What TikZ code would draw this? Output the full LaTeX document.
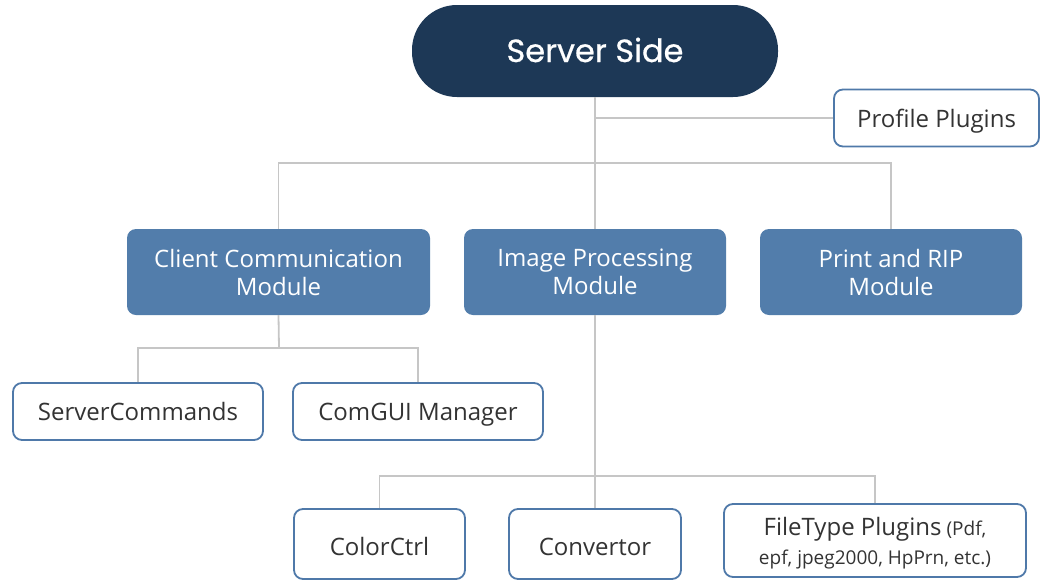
\documentclass[tikz,border=0pt]{standalone}
\usepackage{fontspec}
\setmainfont{Open Sans}
\newfontfamily\popfont{Poppins}[FakeBold=0.7]
\definecolor{navy}{HTML}{1D3856}
\definecolor{modfill}{HTML}{527DAB}
\definecolor{bordc}{HTML}{4F79A9}
\definecolor{linec}{HTML}{C6C6C6}
\definecolor{txt}{HTML}{333333}
\begin{document}
\begin{tikzpicture}[x=1pt,y=-1pt,
  conn/.style={draw=linec,line width=1.8pt},
  topbox/.style={fill=navy,rounded corners=45pt,minimum width=366pt,minimum height=92pt,text=white,font=\popfont\fontsize{32}{36}\selectfont,inner sep=0pt},
  modbox/.style={fill=modfill,rounded corners=9pt,minimum width=#1,minimum height=86pt,text=white,font=\fontsize{24}{28}\selectfont,align=center,inner sep=0pt},
  leafbox/.style={draw=bordc,line width=1.8pt,fill=white,rounded corners=9pt,text=txt,font=\fontsize{24}{28}\selectfont,align=center,inner sep=0pt},
  oneline/.style={text height=20pt,text depth=2pt},
  lowline/.style={text height=22pt,text depth=0pt}]
\useasboundingbox (0,0) rectangle (1041,581);
\node[topbox,text height=25pt,text depth=3pt] (server) at (595,51) {Server Side};
\node[leafbox,oneline,minimum width=205pt,minimum height=57pt] (profile) at (936.5,118) {Profile Plugins};
\node[modbox=303pt] (client) at (278.5,272) {Client Communication\\Module};
\node[modbox=262pt] (image) at (595,272) {Image Processing\\Module};
\node[modbox=262pt] (print) at (891,272) {Print and RIP\\Module};
\node[leafbox,oneline,minimum width=250pt,minimum height=57pt] (sc) at (138,411.5) {ServerCommands};
\node[leafbox,oneline,minimum width=250pt,minimum height=57pt] (cg) at (418,411.5) {ComGUI Manager};
\node[leafbox,lowline,minimum width=171pt,minimum height=70pt] (cc) at (379.5,544) {ColorCtrl};
\node[leafbox,lowline,minimum width=172pt,minimum height=70pt] (conv) at (595,544) {Convertor};
\node[leafbox,text depth=0pt,minimum width=302pt,minimum height=73pt,font=\fontsize{19}{29}\selectfont] (ft) at (875,540.5) {{\fontsize{24}{29}\selectfont FileType Plugins} (Pdf,\\epf, jpeg2000, HpPrn, etc.)};
\coordinate (j1) at (595,163);
\coordinate (j2) at (279,348);
\coordinate (j3) at (595,476);
\draw[conn] (server.south) -- (image.north);
\draw[conn] (server.south |- profile.west) -- (profile.west);
\draw[conn] (client.north) |- (j1) -| (print.north);
\draw[conn] (client.south) -- (j2);
\draw[conn] (sc.north) |- (j2) -| (cg.north);
\draw[conn] (image.south) -- (conv.north);
\draw[conn] (cc.north) |- (j3) -| (ft.north);
\end{tikzpicture}
\end{document}
